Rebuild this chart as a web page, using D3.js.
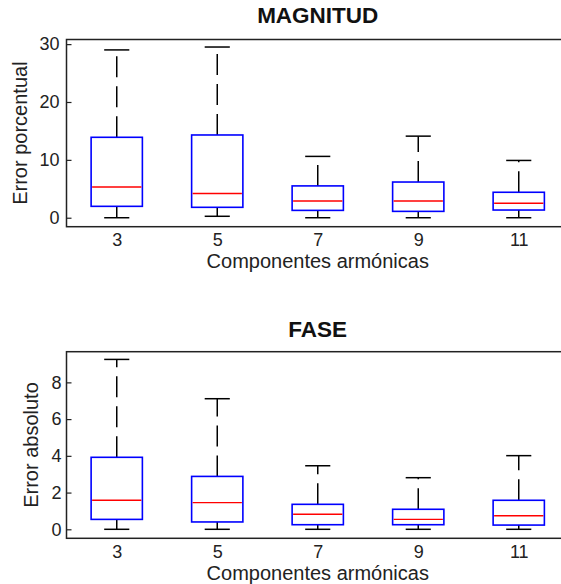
<!DOCTYPE html>
<html>
<head>
<meta charset="utf-8">
<script src="https://cdn.jsdelivr.net/npm/d3@7"></script>
<style>
  html, body { margin: 0; padding: 0; background: #fff; }
  svg { display: block; font-family: Arial, "Liberation Sans", sans-serif; }
</style>
</head>
<body>
<svg id="chart" width="561" height="584"></svg>
<script>
// ---- Data ----
const categories = ["3", "5", "7", "9", "11"];

// MAGNITUD (Error porcentual)
const magWhiskerLow  = [0.0, 0.25, 0.0, 0.0, 0.0];
const magQ1          = [1.97, 1.8, 1.27, 1.1, 1.33];
const magMedian      = [5.3, 4.2, 2.9, 2.9, 2.5];
const magQ3          = [13.9, 14.3, 5.5, 6.17, 4.4];
const magWhiskerHigh = [29.0, 29.5, 10.6, 14.1, 9.9];
const magTicks = [0, 10, 20, 30];

// FASE (Error absoluto)
const faseWhiskerLow  = [0.0, 0.0, 0.0, 0.0, 0.0];
const faseQ1          = [0.54, 0.4, 0.25, 0.25, 0.23];
const faseMedian      = [1.58, 1.45, 0.82, 0.54, 0.74];
const faseQ3          = [3.92, 2.88, 1.36, 1.09, 1.58];
const faseWhiskerHigh = [9.25, 7.11, 3.46, 2.81, 4.01];
const faseTicks = [0, 2, 4, 6, 8];

const svg = d3.select("#chart");

function panel(cfg) {
  const g = svg.append("g");
  const x = d3.scaleLinear().domain([0.5, categories.length + 0.5]).range([66.5, 569]);
  const y = d3.scaleLinear().domain(cfg.domain).range([cfg.bottom, cfg.top]);
  const step = x(2) - x(1);
  const boxW = step * 0.51;
  const capW = step * 0.25;

  const rows = categories.map((c, i) => ({
    pos: i + 1, lo: cfg.lo[i], q1: cfg.q1[i], med: cfg.med[i], q3: cfg.q3[i], hi: cfg.hi[i]
  }));

  // whiskers (dashed)
  const wg = g.append("g");
  rows.forEach(d => {
    wg.append("line")
      .attr("x1", x(d.pos)).attr("x2", x(d.pos))
      .attr("y1", y(d.q3)).attr("y2", y(d.hi))
      .attr("stroke", "#000").attr("stroke-width", 1.5)
      .attr("stroke-dasharray", "21,9");
    wg.append("line")
      .attr("x1", x(d.pos)).attr("x2", x(d.pos))
      .attr("y1", y(d.q1)).attr("y2", y(d.lo))
      .attr("stroke", "#000").attr("stroke-width", 1.5)
      .attr("stroke-dasharray", "21,9");
    [d.hi, d.lo].forEach(v => {
      wg.append("line")
        .attr("x1", x(d.pos) - capW / 2).attr("x2", x(d.pos) + capW / 2)
        .attr("y1", y(v)).attr("y2", y(v))
        .attr("stroke", "#000").attr("stroke-width", 1.5);
    });
  });

  // boxes
  g.append("g").selectAll("rect").data(rows).join("rect")
    .attr("x", d => x(d.pos) - boxW / 2)
    .attr("width", boxW)
    .attr("y", d => y(d.q3))
    .attr("height", d => y(d.q1) - y(d.q3))
    .attr("fill", "none")
    .attr("stroke", "#0000ff")
    .attr("stroke-width", 1.6);

  // medians
  g.append("g").selectAll("line").data(rows).join("line")
    .attr("x1", d => x(d.pos) - boxW / 2 + 1)
    .attr("x2", d => x(d.pos) + boxW / 2 - 1)
    .attr("y1", d => y(d.med)).attr("y2", d => y(d.med))
    .attr("stroke", "#ff0000")
    .attr("stroke-width", 1.4);

  // frame
  g.append("rect")
    .attr("x", x.range()[0]).attr("y", cfg.top)
    .attr("width", x.range()[1] - x.range()[0])
    .attr("height", cfg.bottom - cfg.top)
    .attr("fill", "none").attr("stroke", "#222").attr("stroke-width", 1.5);

  // y axis
  const ya = g.append("g")
    .attr("transform", `translate(${x.range()[0]},0)`)
    .call(d3.axisLeft(y).tickValues(cfg.ticks).tickFormat(d3.format("d"))
      .tickSizeInner(-5).tickSizeOuter(0).tickPadding(cfg.tickPad));
  ya.select(".domain").remove();
  ya.selectAll(".tick line").attr("stroke", "#222").attr("stroke-width", 1.2);
  ya.selectAll(".tick text").attr("font-size", 18).attr("fill", "#222")
    .attr("font-family", "Arial, 'Liberation Sans', sans-serif");

  // x axis
  const xa = g.append("g")
    .attr("transform", `translate(0,${cfg.bottom})`)
    .call(d3.axisBottom(x).tickValues(rows.map(d => d.pos))
      .tickFormat((d, i) => categories[i]).tickSize(0).tickPadding(7));
  xa.select(".domain").remove();
  xa.selectAll(".tick text").attr("font-size", 18).attr("fill", "#222")
    .attr("font-family", "Arial, 'Liberation Sans', sans-serif");

  // title
  const cx = (x.range()[0] + x.range()[1]) / 2;
  g.append("text").attr("x", cx).attr("y", cfg.titleY)
    .attr("text-anchor", "middle").attr("font-size", 22.5).attr("font-weight", "bold")
    .attr("fill", "#111").text(cfg.title);

  // x label
  g.append("text").attr("x", cx).attr("y", cfg.xLabelY)
    .attr("text-anchor", "middle").attr("font-size", 20).attr("fill", "#222")
    .text("Componentes armónicas");

  // y label
  g.append("text")
    .attr("transform", `translate(${cfg.yLabelX},${(cfg.top + cfg.bottom) / 2}) rotate(-90)`)
    .attr("text-anchor", "middle").attr("font-size", 20).attr("fill", "#222")
    .text(cfg.yLabel);
}

panel({
  title: "MAGNITUD", yLabel: "Error porcentual",
  top: 39.5, bottom: 226.7, domain: [-1.55, 30.8], ticks: magTicks, tickPad: 7,
  lo: magWhiskerLow, q1: magQ1, med: magMedian, q3: magQ3, hi: magWhiskerHigh,
  titleY: 23.3, xLabelY: 268, yLabelX: 27
});

panel({
  title: "FASE", yLabel: "Error absoluto",
  top: 351.7, bottom: 538.3, domain: [-0.49, 9.67], ticks: faseTicks, tickPad: 5,
  lo: faseWhiskerLow, q1: faseQ1, med: faseMedian, q3: faseQ3, hi: faseWhiskerHigh,
  titleY: 336.7, xLabelY: 579.5, yLabelX: 37.5
});
</script>
</body>
</html>
